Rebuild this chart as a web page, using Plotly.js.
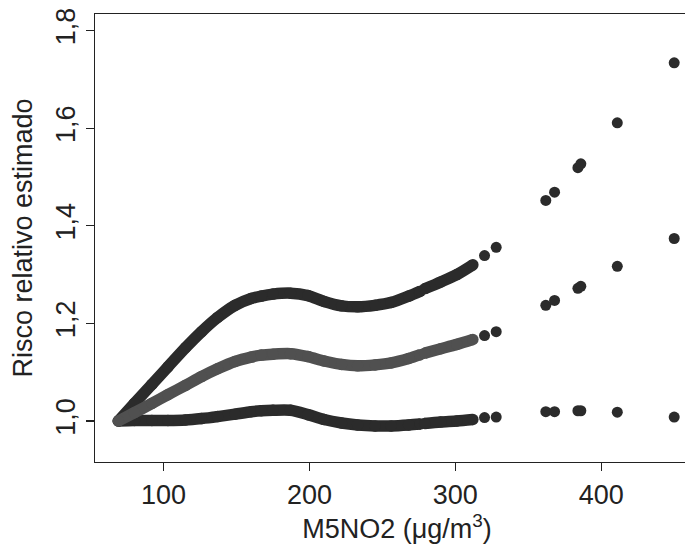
<!DOCTYPE html>
<html>
<head>
<meta charset="utf-8">
<script src="https://cdn.plot.ly/plotly-3.0.1.min.js"></script>
<style>
html,body{margin:0;padding:0;overflow:hidden;background:#fff;}
#chart{width:700px;height:548px;}
</style>
</head>
<body>
<div id="chart"></div>
<script>
// Dense part of the curves (M5NO2 values, null = small gap)
const xDense = [69, 80, 92, 103, 115, 126, 137, 149, 160, 167, 175, 187, 199, 210, 222, 233, 245, 256, 268, 276, null, 279, 290, 301, 312];
const upperDense = [1.0, 1.036, 1.075, 1.111, 1.150, 1.183, 1.212, 1.237, 1.251, 1.256, 1.260, 1.262, 1.257, 1.245, 1.236, 1.234, 1.237, 1.243, 1.256, 1.266, null, 1.271, 1.285, 1.300, 1.320];
const estDense   = [1.0, 1.017, 1.036, 1.054, 1.073, 1.091, 1.107, 1.122, 1.131, 1.135, 1.137, 1.138, 1.132, 1.123, 1.116, 1.113, 1.115, 1.119, 1.128, 1.136, null, 1.139, 1.148, 1.157, 1.167];
const lowerDense = [1.0, 1.001, 1.001, 1.001, 1.002, 1.005, 1.009, 1.014, 1.019, 1.021, 1.022, 1.022, 1.013, 1.003, 0.996, 0.992, 0.990, 0.990, 0.992, 0.994, null, 0.995, 0.998, 1.000, 1.003];

// Sparse points at high concentrations
const xSparse = [320, 328, 362, 368, 384, 386, 411, 450];
const upperSparse = [1.339, 1.356, 1.452, 1.469, 1.519, 1.527, 1.611, 1.734];
const estSparse   = [1.175, 1.183, 1.237, 1.247, 1.272, 1.276, 1.317, 1.374];
const lowerSparse = [1.007, 1.008, 1.019, 1.019, 1.021, 1.021, 1.018, 1.008];

// Axis ticks
const yTickVals = [1.0, 1.2, 1.4, 1.6, 1.8];
const yTickText = ["1,0", "1,2", "1,4", "1,6", "1,8"];
const xTickVals = [100, 200, 300, 400];
const xTickText = ["100", "200", "300", "400"];

const dark = "#2b2b2b";
const mid = "#505050";
const lw = 11.5;
const ms = 11;

function lineTrace(x, y, color) {
  return {x: x, y: y, type: "scatter", mode: "lines+markers", connectgaps: false,
    line: {color: color, width: lw, shape: "spline", smoothing: 0.8},
    marker: {color: color, size: lw, line: {width: 0}}, hoverinfo: "skip"};
}
function dotTrace(x, y, color) {
  return {x: x, y: y, type: "scatter", mode: "markers",
    marker: {color: color, size: ms, line: {width: 0}}, hoverinfo: "skip"};
}

const data = [
  lineTrace(xDense, upperDense, dark),
  lineTrace(xDense, lowerDense, dark),
  lineTrace(xDense, estDense, mid),
  dotTrace(xSparse, upperSparse, dark),
  dotTrace(xSparse, estSparse, dark),
  dotTrace(xSparse, lowerSparse, dark)
];

const font = {family: "Liberation Sans, Arial, sans-serif", size: 27, color: "#222"};

const layout = {
  width: 700, height: 548,
  margin: {l: 95, r: 1, t: 14, b: 86},
  paper_bgcolor: "#fff", plot_bgcolor: "#fff",
  showlegend: false,
  font: font,
  xaxis: {
    range: [53, 467], showgrid: false, zeroline: false,
    showline: true, mirror: true, linecolor: "#222", linewidth: 1.3,
    ticks: "outside", ticklen: 8, tickcolor: "#222", tickwidth: 1.3,
    tickvals: xTickVals, ticktext: xTickText, tickfont: font,
    title: {text: "M5NO2 (\u03BCg/m<sup>3</sup>)", font: font, standoff: 2}
  },
  yaxis: {
    range: [0.916, 1.834], showgrid: false, zeroline: false,
    showline: true, mirror: true, linecolor: "#222", linewidth: 1.3,
    ticks: "outside", ticklen: 8, tickcolor: "#222", tickwidth: 1.3,
    tickvals: yTickVals, ticktext: yTickText, tickangle: -90, tickfont: font,
    title: {text: "Risco relativo estimado", font: font, standoff: 10}
  }
};

Plotly.newPlot("chart", data, layout, {displayModeBar: false, staticPlot: true});
</script>
</body>
</html>
